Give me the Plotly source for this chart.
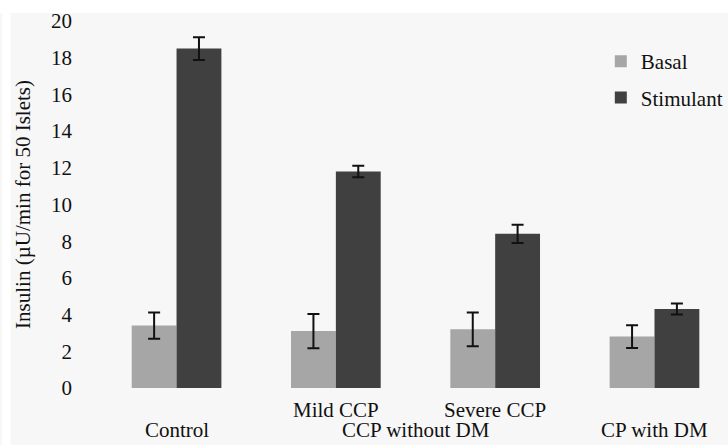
import plotly.graph_objects as go

categories = ["Control", "Mild CCP", "Severe CCP", "CP with DM"]
basal = [3.4, 3.1, 3.2, 2.8]
basal_err = [0.72, 0.93, 0.92, 0.62]
stimulant = [18.5, 11.8, 8.4, 4.3]
stimulant_err = [0.62, 0.31, 0.5, 0.3]
y_ticks = [0, 2, 4, 6, 8, 10, 12, 14, 16, 18, 20]
upper_labels = ["", "Mild CCP", "Severe CCP", ""]
lower_labels = [("Control", 0), ("CCP without DM", 1.5), ("CP with DM", 3)]

FONT = "Liberation Serif"
FS = 21
xs = list(range(len(categories)))

fig = go.Figure()
fig.add_trace(go.Bar(
    x=xs, y=basal, name="Basal", legendgroup="b",
    marker=dict(color="#a6a6a6", line=dict(width=0)),
    error_y=dict(type="data", array=basal_err, color="#111111", thickness=2, width=6),
))
fig.add_trace(go.Bar(
    x=xs, y=stimulant, name="Stimulant", legendgroup="s",
    marker=dict(color="#404040", line=dict(width=0)),
    error_y=dict(type="data", array=stimulant_err, color="#111111", thickness=2, width=6),
))

annotations = []
for i, lab in enumerate(upper_labels):
    if lab:
        annotations.append(dict(x=i, y=-0.06, xref="x", yref="paper", text=lab,
                                showarrow=False, yanchor="middle", xanchor="center",
                                font=dict(family=FONT, size=FS, color="#111111")))
for lab, pos in lower_labels:
    annotations.append(dict(x=pos, y=-0.1144, xref="x", yref="paper", text=lab,
                            showarrow=False, yanchor="middle", xanchor="center",
                            font=dict(family=FONT, size=FS, color="#111111")))

fig.update_layout(
    width=728, height=445,
    margin=dict(l=80, r=0, t=21, b=57),
    paper_bgcolor="#f7f7f7", plot_bgcolor="#f7f7f7",
    barmode="group", bargap=0.437, bargroupgap=0,
    font=dict(family=FONT, size=FS, color="#111111"),
    xaxis=dict(range=[-0.606, 3.361], showticklabels=False, showgrid=False,
               zeroline=False, showline=False, ticks=""),
    yaxis=dict(range=[0, 20], tickvals=y_ticks, showgrid=False, zeroline=False,
               showline=False, ticks="", ticklabelstandoff=7,
               title=dict(text="Insulin (µU/min for 50 Islets)", standoff=14,
                          font=dict(family=FONT, size=FS))),
    legend=dict(x=(614 - 80) / 648, y=1 - (41 - 21) / 367, xanchor="left", yanchor="top",
                bgcolor="rgba(0,0,0,0)", itemwidth=30, tracegroupgap=6,
                traceorder="grouped", font=dict(family=FONT, size=FS)),
    annotations=annotations,
    shapes=[
        dict(type="rect", xref="paper", yref="paper", x0=-0.2, x1=1.1,
             y0=1 + 8 / 367, y1=1 + 25 / 367, fillcolor="white", line=dict(width=0), layer="below"),
        dict(type="rect", xref="paper", yref="paper", x0=-80 / 648, x1=-71 / 648,
             y0=-0.2, y1=1.1, fillcolor="white", line=dict(width=0), layer="below"),
    ],
)

fig.write_html("out.html", config={"displayModeBar": False},
               post_script="document.body.style.margin='0';document.body.style.overflow='hidden';")
